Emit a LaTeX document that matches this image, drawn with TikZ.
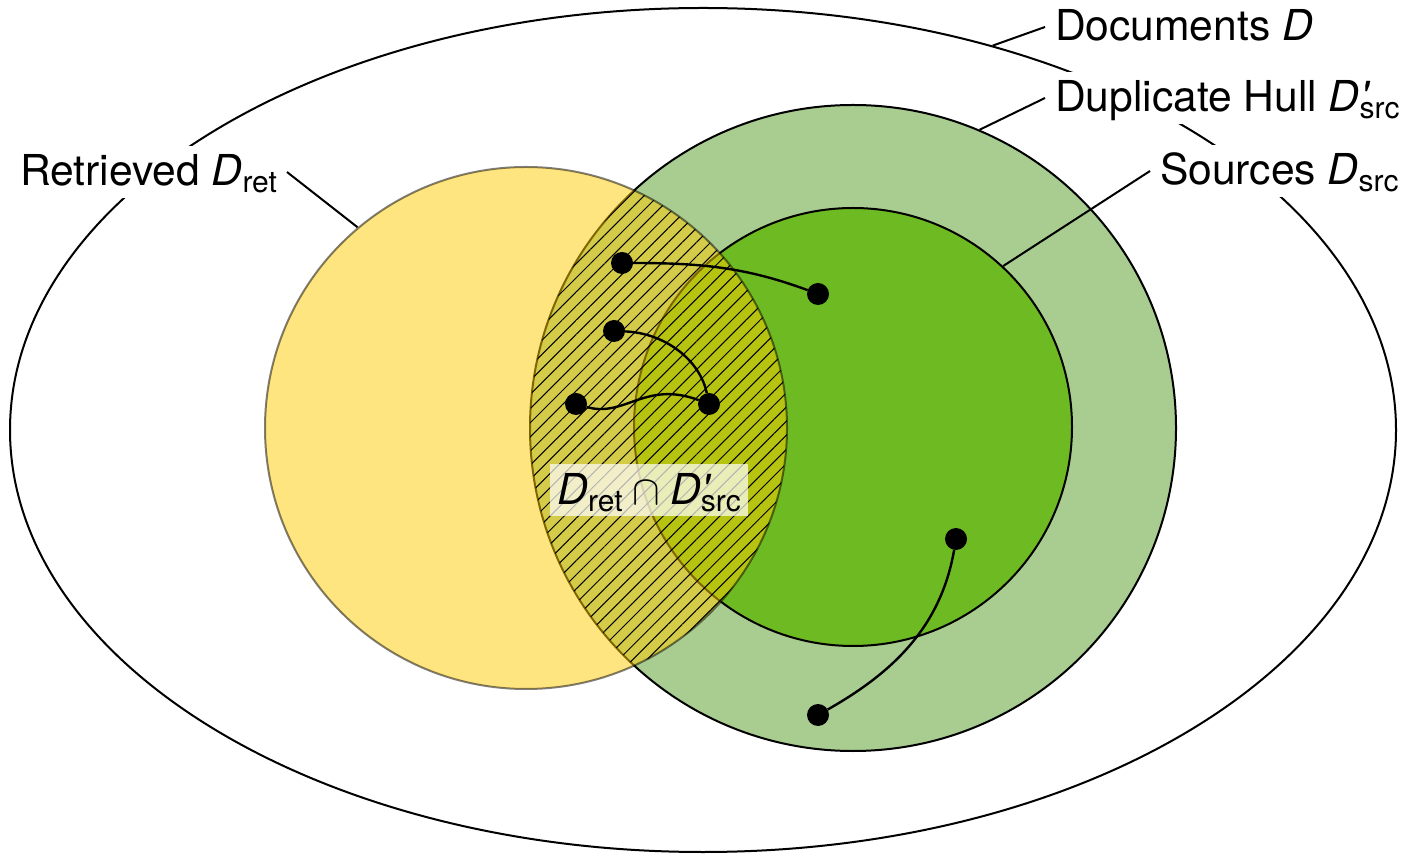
\documentclass[tikz,border=0pt]{standalone}
\usepackage{fontspec}
\setmainfont{TeX Gyre Heros}
\usetikzlibrary{shapes.geometric,patterns.meta}
\definecolor{hullc}{HTML}{A9CD91}
\definecolor{srcc}{HTML}{6EBA22}
\definecolor{retc}{HTML}{FFCC00}
\newcommand{\Dv}{\textit{D}}
\newcommand{\subx}[1]{\raisebox{-3.5pt}{\fontsize{15}{15}\selectfont #1}}
\newcommand{\prm}{\rlap{\kern0.3pt\textit{\textquotesingle}}}
\begin{document}
\begin{tikzpicture}[x=0.5pt,y=-0.5pt,
  lbl/.style={fill=white, inner xsep=5pt, inner ysep=1pt, text height=19pt, text depth=5pt,
    font=\fontsize{21.3}{25}\selectfont, anchor=base west, outer sep=0pt},
  blob/.style={circle, fill=black, minimum size=11pt, inner sep=0pt, outer sep=0pt},
  wire/.style={line width=1.2pt},
  leader/.style={line width=1pt},
  region/.style={draw=black, line width=1pt, inner sep=0pt}]
\path[use as bounding box, fill=white] (0,0) rectangle (1412,854);
% regions
\node[region, ellipse, minimum width=693pt, minimum height=422pt] (docs) at (703,430) {};
\node[region, circle, fill=hullc, minimum size=323pt] (hull) at (853,428) {};
\node[region, circle, fill=srcc, minimum size=219pt] (srcs) at (853,427) {};
\node[region, circle, draw opacity=0.5, fill=retc, fill opacity=0.5, minimum size=261pt] (ret) at (526,428) {};
% hatched intersection
\begin{scope}
  \clip (526,428) circle[radius=130.5pt];
  \fill[pattern={Lines[angle=45,distance=5pt,line width=0.5pt]}] (853,428) circle[radius=161.5pt];
\end{scope}
% documents (dots)
\node[blob] (a1) at (622,263) {};
\node[blob] (b1) at (818,294) {};
\node[blob] (c1) at (614,331) {};
\node[blob] (d1) at (709,404) {};
\node[blob] (e1) at (576,404) {};
\node[blob] (f1) at (956,539) {};
\node[blob] (g1) at (818,715) {};
\draw[wire] (a1) .. controls (700,263) and (745,267) .. (b1);
\draw[wire] (c1) .. controls (665,333) and (700,360) .. (d1);
\draw[wire] (e1) .. controls (625,418) and (645,380) .. (d1);
\draw[wire] (f1) .. controls (941,626) and (894,672) .. (g1);
% intersection label
\node[fill=white, fill opacity=0.7, text opacity=1, inner xsep=3.5pt, inner ysep=3.5pt,
  text height=17pt, text depth=2pt, anchor=base west, font=\fontsize{21.3}{25}\selectfont]
  (lint) at (550,505) {\Dv\subx{ret}\kern5pt$\cap$\kern5pt\Dv\prm\subx{src}};
% labels
\node[lbl] (ldocs) at (1045,41) {Documents \Dv};
\node[lbl] (lhull) at (1045,112) {Duplicate Hull \Dv\prm\subx{src}};
\node[lbl] (lsrcs) at (1150,185) {Sources \Dv\subx{src}};
\node[lbl] (lret) at (10,186) {Retrieved \Dv\subx{ret}};
\draw[leader] (docs.53.7) -- (ldocs.west);
\draw[leader] (hull.67) -- (lhull.west);
\draw[leader] (srcs.47) -- (lsrcs.west);
\draw[leader] (ret.130) -- (lret.east);
\end{tikzpicture}
\end{document}
